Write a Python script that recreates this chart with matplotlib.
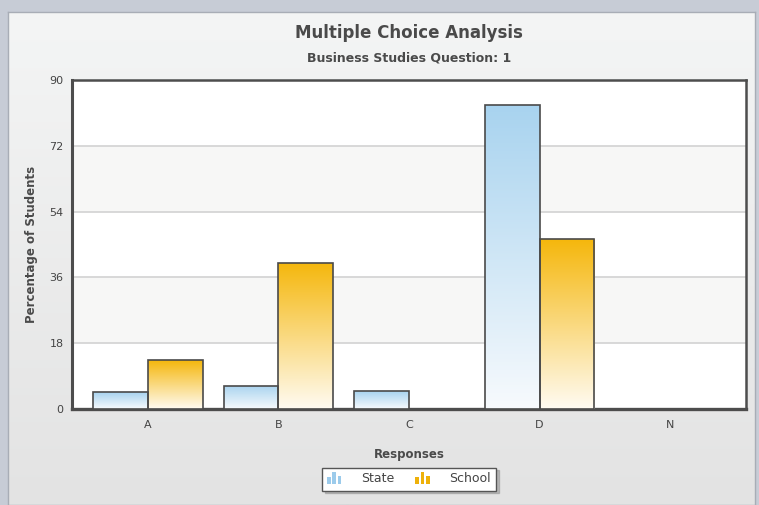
import numpy as np
import matplotlib
matplotlib.use("Agg")
import matplotlib.pyplot as plt
from matplotlib.colors import LinearSegmentedColormap
from matplotlib.legend_handler import HandlerBase
from matplotlib.patches import Rectangle

# Data
categories = ["A", "B", "C", "D", "N"]
state = [4.6, 6.3, 4.9, 83.2, 0]
school = [13.4, 40.0, 0, 46.5, 0]
yticks = [0, 18, 36, 54, 72, 90]

blue_cmap = LinearSegmentedColormap.from_list("blue", ["#f7fafd", "#a8d3ef"])
gold_cmap = LinearSegmentedColormap.from_list("gold", ["#fffbf2", "#f5b70c"])

fig = plt.figure(figsize=(7.59, 5.05), dpi=100)
fig.patch.set_facecolor("#c7ccd6")

# light panel behind the chart
bg = fig.add_axes([8 / 759, 0, 747 / 759, 1 - 12 / 505])
grad = np.linspace(0, 1, 256).reshape(-1, 1)
bg.imshow(grad, aspect="auto", cmap=LinearSegmentedColormap.from_list("bg", ["#f4f5f5", "#e3e3e3"]),
          extent=(0, 1, 0, 1), origin="upper")
bg.set_xticks([])
bg.set_yticks([])
for s in bg.spines.values():
    s.set_color("#a8adb6")
    s.set_linewidth(1)
bg.set_zorder(-10)

ax = fig.add_axes([72 / 759, 1 - 409 / 505, 674 / 759, 329 / 505])
ax.set_facecolor("white")

# alternating bands
for lo in [18, 54]:
    ax.axhspan(lo, lo + 18, color="#f7f7f6", zorder=0, lw=0)
for y in yticks[1:-1]:
    ax.axhline(y, color="#d8d8d8", lw=1.4, zorder=1)

x = np.arange(len(categories))
w = 0.42


def grad_bars(xs, vals, cmap):
    bars = ax.bar(xs, vals, width=w, facecolor="none", edgecolor="#4a4a4a", lw=1.2, zorder=4)
    for b, v in zip(bars, vals):
        if v <= 0:
            b.set_visible(False)
            continue
        x0 = b.get_x()
        im = ax.imshow(grad, aspect="auto", cmap=cmap, origin="lower",
                       extent=(x0, x0 + b.get_width(), 0, v), zorder=3)
        im.set_clip_path(b)
    return bars


grad_bars(x - w / 2, state, blue_cmap)
grad_bars(x + w / 2, school, gold_cmap)
ax.set_xlim(-0.58, 4.58)
ax.set_ylim(0, 90)
ax.set_aspect("auto")

ax.set_xticks(x)
ax.set_xticklabels(categories)
ax.set_yticks(yticks)
ax.tick_params(axis="both", length=0, labelsize=8, colors="#444444", pad=8)
ax.tick_params(axis="y", pad=6)
for s in ax.spines.values():
    s.set_color("#4d4d4d")
    s.set_linewidth(1.8)
ax.spines["bottom"].set_linewidth(2.4)
ax.spines["left"].set_linewidth(2.2)

ax.set_xlabel("Responses", fontsize=8.5, fontweight="bold", color="#4a4a4a", labelpad=13)
ax.set_ylabel("Percentage of Students", fontsize=8.5, fontweight="bold", color="#4a4a4a", labelpad=8)

fig.text(409 / 759, 1 - 33 / 505, "Multiple Choice Analysis", ha="center", va="center",
         fontsize=12, fontweight="bold", color="#4a4a4a")
fig.text(409 / 759, 1 - 58 / 505, "Business Studies Question: 1", ha="center", va="center",
         fontsize=9, fontweight="bold", color="#4a4a4a")


class MiniBars(HandlerBase):
    def __init__(self, color):
        super().__init__()
        self.color = color

    def create_artists(self, legend, orig_handle, xdescent, ydescent, width, height, fontsize, trans):
        bw = width / 6
        hs = [0.6, 1.0, 0.7]
        arts = []
        for i, h in enumerate(hs):
            r = Rectangle((-xdescent + i * bw * 1.5, -ydescent - 1), bw, (height + 2) * h,
                          facecolor=self.color, edgecolor="none", transform=trans)
            arts.append(r)
        return arts


h1 = Rectangle((0, 0), 1, 1)
h2 = Rectangle((0, 0), 1, 1)
leg = fig.legend([h1, h2], ["State", "School"], loc="center", bbox_to_anchor=(409 / 759, 1 - 479 / 505),
                 ncol=2, fontsize=9, frameon=True, fancybox=False,
                 shadow={"color": "0.55", "alpha": 0.5, "ox": 2, "oy": -2},
                 handler_map={h1: MiniBars("#9ccbeb"), h2: MiniBars("#eeb10a")},
                 handlelength=1.7, handletextpad=1.0, columnspacing=1.7, borderpad=0.4)
leg.get_frame().set_edgecolor("#555555")
leg.get_frame().set_linewidth(1)
for t in leg.get_texts():
    t.set_color("#444444")

fig.savefig("out.png", dpi=100, facecolor=fig.get_facecolor())
